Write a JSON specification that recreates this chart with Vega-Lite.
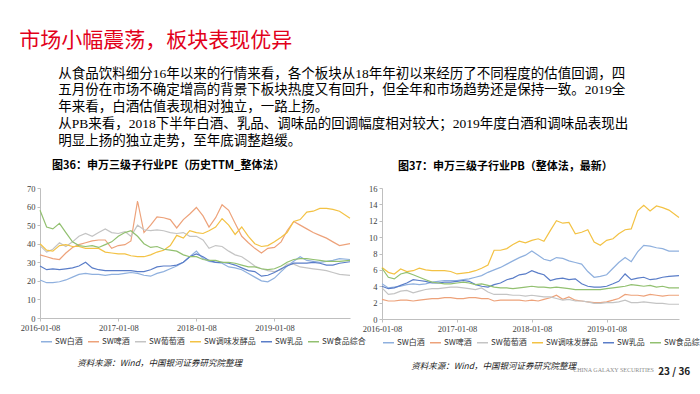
{
  "$schema": "https://vega.github.io/schema/vega-lite/v6.json",
  "background": "white",
  "padding": {"left": 19, "top": 29, "right": 0, "bottom": 0},
  "datasets": {
    "pe": [
      {"d":"2016-01-08","SW白酒":20.5,"SW啤酒":34,"SW葡萄酒":39,"SW调味发酵品":40,"SW乳品":28,"SW食品综合":58},
      {"d":"2016-02-08","SW白酒":19,"SW啤酒":33,"SW葡萄酒":35.5,"SW调味发酵品":36.5,"SW乳品":26,"SW食品综合":49},
      {"d":"2016-03-08","SW白酒":19,"SW啤酒":32,"SW葡萄酒":37,"SW调味发酵品":36,"SW乳品":26.5,"SW食品综合":48},
      {"d":"2016-04-08","SW白酒":19.5,"SW啤酒":31.5,"SW葡萄酒":40.5,"SW调味发酵品":39,"SW乳品":26,"SW食品综合":51},
      {"d":"2016-05-08","SW白酒":20.5,"SW啤酒":35,"SW葡萄酒":38.5,"SW调味发酵品":39.5,"SW乳品":26.5,"SW食品综合":46},
      {"d":"2016-06-08","SW白酒":22,"SW啤酒":38,"SW葡萄酒":41,"SW调味发酵品":38.5,"SW乳品":27,"SW食品综合":41},
      {"d":"2016-07-08","SW白酒":23.5,"SW啤酒":39.5,"SW葡萄酒":44,"SW调味发酵品":38.5,"SW乳品":28,"SW食品综合":39},
      {"d":"2016-08-08","SW白酒":24,"SW啤酒":40.5,"SW葡萄酒":45.5,"SW调味发酵品":37.5,"SW乳品":30,"SW食品综合":38.5},
      {"d":"2016-09-08","SW白酒":23.5,"SW啤酒":41.5,"SW葡萄酒":44,"SW调味发酵品":37.5,"SW乳品":27,"SW食品综合":39},
      {"d":"2016-10-08","SW白酒":23.5,"SW啤酒":42,"SW葡萄酒":46,"SW调味发酵品":37.5,"SW乳品":26,"SW食品综合":38},
      {"d":"2016-11-08","SW白酒":23,"SW啤酒":42,"SW葡萄酒":48,"SW调味发酵品":35.5,"SW乳品":25.5,"SW食品综合":39.5},
      {"d":"2016-12-08","SW白酒":23.5,"SW啤酒":37.5,"SW葡萄酒":46,"SW调味发酵品":35,"SW乳品":25.5,"SW食品综合":41},
      {"d":"2017-01-08","SW白酒":23.5,"SW啤酒":39,"SW葡萄酒":45.5,"SW调味发酵品":34.5,"SW乳品":25.5,"SW食品综合":44},
      {"d":"2017-02-08","SW白酒":24,"SW啤酒":39.5,"SW葡萄酒":46.5,"SW调味发酵品":34.5,"SW乳品":25.5,"SW食品综合":46},
      {"d":"2017-03-08","SW白酒":24.5,"SW啤酒":41.5,"SW葡萄酒":44,"SW调味发酵品":33.5,"SW乳品":25.5,"SW食品综合":47},
      {"d":"2017-04-08","SW白酒":24,"SW啤酒":63,"SW葡萄酒":50,"SW调味发酵品":33,"SW乳品":25,"SW食品综合":44},
      {"d":"2017-05-08","SW白酒":23,"SW啤酒":46,"SW葡萄酒":47.5,"SW调味发酵品":33,"SW乳品":25,"SW食品综合":40},
      {"d":"2017-06-08","SW白酒":22.5,"SW啤酒":50,"SW葡萄酒":47,"SW调味发酵品":34,"SW乳品":26,"SW食品综合":38},
      {"d":"2017-07-08","SW白酒":24,"SW啤酒":54.5,"SW葡萄酒":47.5,"SW调味发酵品":35.5,"SW乳品":27.5,"SW食品综合":38.5},
      {"d":"2017-08-08","SW白酒":25,"SW啤酒":54,"SW葡萄酒":47,"SW调味发酵品":36.5,"SW乳品":28,"SW食品综合":37},
      {"d":"2017-09-08","SW白酒":26.5,"SW啤酒":53,"SW葡萄酒":46,"SW调味发酵品":39,"SW乳品":28,"SW食品综合":36.5},
      {"d":"2017-10-08","SW白酒":28,"SW啤酒":48.5,"SW葡萄酒":45.5,"SW调味发酵品":44.5,"SW乳品":28.5,"SW食品综合":36},
      {"d":"2017-11-08","SW白酒":30,"SW啤酒":53,"SW葡萄酒":46,"SW调味发酵品":43,"SW乳品":30,"SW食品综合":34},
      {"d":"2017-12-08","SW白酒":33,"SW啤酒":56,"SW葡萄酒":44,"SW调味发酵品":47,"SW乳品":33,"SW食品综合":33},
      {"d":"2018-01-08","SW白酒":36,"SW啤酒":59.5,"SW葡萄酒":44,"SW调味发酵品":46,"SW乳品":34.5,"SW食品综合":33},
      {"d":"2018-02-08","SW白酒":32,"SW啤酒":55,"SW葡萄酒":42,"SW调味发酵品":45.5,"SW乳品":33,"SW食品综合":31.5},
      {"d":"2018-03-08","SW白酒":30.5,"SW啤酒":49,"SW葡萄酒":37.5,"SW调味发酵品":47,"SW乳品":31,"SW食品综合":31},
      {"d":"2018-04-08","SW白酒":30,"SW啤酒":54,"SW葡萄酒":39,"SW调味发酵品":49,"SW乳品":30,"SW食品综合":31},
      {"d":"2018-05-08","SW白酒":29.5,"SW啤酒":61,"SW葡萄酒":38.5,"SW调味发酵品":53.5,"SW乳品":30,"SW食品综合":30},
      {"d":"2018-06-08","SW白酒":27.5,"SW啤酒":58,"SW葡萄酒":36,"SW调味发酵品":50,"SW乳品":29.5,"SW食品综合":30},
      {"d":"2018-07-08","SW白酒":27,"SW啤酒":51,"SW葡萄酒":34,"SW调味发酵品":45,"SW乳品":28.5,"SW食品综合":29.5},
      {"d":"2018-08-08","SW白酒":26,"SW啤酒":44,"SW葡萄酒":33,"SW调味发酵品":49,"SW乳品":27,"SW食品综合":28.5},
      {"d":"2018-09-08","SW白酒":24,"SW啤酒":40.5,"SW葡萄酒":30.5,"SW调味发酵品":44,"SW乳品":25.5,"SW食品综合":27.5},
      {"d":"2018-10-08","SW白酒":22,"SW啤酒":37.5,"SW葡萄酒":28,"SW调味发酵品":40,"SW乳品":25,"SW食品综合":27.5},
      {"d":"2018-11-08","SW白酒":20,"SW啤酒":35,"SW葡萄酒":26.5,"SW调味发酵品":38.5,"SW乳品":22.5,"SW食品综合":26.5},
      {"d":"2018-12-08","SW白酒":19.5,"SW啤酒":37.5,"SW葡萄酒":25.5,"SW调味发酵品":39,"SW乳品":23,"SW食品综合":26},
      {"d":"2019-01-08","SW白酒":21.5,"SW啤酒":38,"SW葡萄酒":25,"SW调味发酵品":41,"SW乳品":24.5,"SW食品综合":26.5},
      {"d":"2019-02-08","SW白酒":25,"SW啤酒":41,"SW葡萄酒":26,"SW调味发酵品":43.5,"SW乳品":26.5,"SW食品综合":28},
      {"d":"2019-03-08","SW白酒":28,"SW啤酒":47,"SW葡萄酒":29,"SW调味发酵品":46,"SW乳品":28,"SW食品综合":30},
      {"d":"2019-04-08","SW白酒":30.5,"SW啤酒":52,"SW葡萄酒":29,"SW调味发酵品":52,"SW乳品":29.5,"SW食品综合":31.5},
      {"d":"2019-05-08","SW白酒":33,"SW啤酒":50,"SW葡萄酒":27.5,"SW调味发酵品":53,"SW乳品":29.5,"SW食品综合":32},
      {"d":"2019-06-08","SW白酒":31,"SW啤酒":48,"SW葡萄酒":27,"SW调味发酵品":57,"SW乳品":29.5,"SW食品综合":32},
      {"d":"2019-07-08","SW白酒":30.5,"SW啤酒":46,"SW葡萄酒":26.5,"SW调味发酵品":57.5,"SW乳品":30,"SW食品综合":31.5},
      {"d":"2019-08-08","SW白酒":30,"SW啤酒":44.5,"SW葡萄酒":26,"SW调味发酵品":59,"SW乳品":29.5,"SW食品综合":31},
      {"d":"2019-09-08","SW白酒":30.5,"SW啤酒":43,"SW葡萄酒":25.5,"SW调味发酵品":59,"SW乳品":28.5,"SW食品综合":30.5},
      {"d":"2019-10-08","SW白酒":31,"SW啤酒":41,"SW葡萄酒":24.5,"SW调味发酵品":58.5,"SW乳品":28.5,"SW食品综合":30.5},
      {"d":"2019-11-08","SW白酒":32,"SW啤酒":39,"SW葡萄酒":23.5,"SW调味发酵品":57.5,"SW乳品":29.5,"SW食品综合":30.5},
      {"d":"2019-12-27","SW白酒":31.5,"SW啤酒":40,"SW葡萄酒":23,"SW调味发酵品":53.7,"SW乳品":30.3,"SW食品综合":31}
    ],
    "pb": [
      {"d":"2016-01-08","SW白酒":4.3,"SW啤酒":2.4,"SW葡萄酒":3.8,"SW调味发酵品":6.3,"SW乳品":4.0,"SW食品综合":6.2},
      {"d":"2016-02-08","SW白酒":3.8,"SW啤酒":2.2,"SW葡萄酒":3.0,"SW调味发酵品":5.7,"SW乳品":3.7,"SW食品综合":5.1},
      {"d":"2016-03-08","SW白酒":3.9,"SW啤酒":2.2,"SW葡萄酒":3.1,"SW调味发酵品":5.5,"SW乳品":3.8,"SW食品综合":4.9},
      {"d":"2016-04-08","SW白酒":4.0,"SW啤酒":2.3,"SW葡萄酒":3.4,"SW调味发酵品":6.1,"SW乳品":4.1,"SW食品综合":5.5},
      {"d":"2016-05-08","SW白酒":4.2,"SW啤酒":2.3,"SW葡萄酒":3.5,"SW调味发酵品":5.8,"SW乳品":4.4,"SW食品综合":5.7},
      {"d":"2016-06-08","SW白酒":4.3,"SW啤酒":2.2,"SW葡萄酒":3.2,"SW调味发酵品":5.9,"SW乳品":4.8,"SW食品综合":5.4},
      {"d":"2016-07-08","SW白酒":4.2,"SW啤酒":2.3,"SW葡萄酒":3.4,"SW调味发酵品":6.2,"SW乳品":4.7,"SW食品综合":5.1},
      {"d":"2016-08-08","SW白酒":4.3,"SW啤酒":2.4,"SW葡萄酒":3.6,"SW调味发酵品":6.0,"SW乳品":4.6,"SW食品综合":4.8},
      {"d":"2016-09-08","SW白酒":4.5,"SW啤酒":2.5,"SW葡萄酒":3.7,"SW调味发酵品":5.9,"SW乳品":4.4,"SW食品综合":4.5},
      {"d":"2016-10-08","SW白酒":4.6,"SW啤酒":2.5,"SW葡萄酒":3.7,"SW调味发酵品":5.9,"SW乳品":4.4,"SW食品综合":4.4},
      {"d":"2016-11-08","SW白酒":4.7,"SW啤酒":2.6,"SW葡萄酒":3.8,"SW调味发酵品":5.9,"SW乳品":4.5,"SW食品综合":4.3},
      {"d":"2016-12-08","SW白酒":4.7,"SW啤酒":2.6,"SW葡萄酒":3.9,"SW调味发酵品":5.8,"SW乳品":4.5,"SW食品综合":4.3},
      {"d":"2017-01-08","SW白酒":4.7,"SW啤酒":2.5,"SW葡萄酒":3.9,"SW调味发酵品":5.5,"SW乳品":4.6,"SW食品综合":4.4},
      {"d":"2017-02-08","SW白酒":4.8,"SW啤酒":2.5,"SW葡萄酒":3.8,"SW调味发酵品":5.6,"SW乳品":4.7,"SW食品综合":4.5},
      {"d":"2017-03-08","SW白酒":4.9,"SW啤酒":2.6,"SW葡萄酒":3.7,"SW调味发酵品":5.7,"SW乳品":4.6,"SW食品综合":4.4},
      {"d":"2017-04-08","SW白酒":5.1,"SW啤酒":2.6,"SW葡萄酒":3.6,"SW调味发酵品":5.9,"SW乳品":4.2,"SW食品综合":4.2},
      {"d":"2017-05-08","SW白酒":5.3,"SW啤酒":2.5,"SW葡萄酒":3.8,"SW调味发酵品":6.2,"SW乳品":4.0,"SW食品综合":4.3},
      {"d":"2017-06-08","SW白酒":5.7,"SW啤酒":2.5,"SW葡萄酒":3.3,"SW调味发酵品":6.6,"SW乳品":3.9,"SW食品综合":4.1},
      {"d":"2017-07-08","SW白酒":6.0,"SW啤酒":2.2,"SW葡萄酒":3.0,"SW调味发酵品":8.4,"SW乳品":4.2,"SW食品综合":3.9},
      {"d":"2017-08-08","SW白酒":6.3,"SW啤酒":2.3,"SW葡萄酒":3.0,"SW调味发酵品":8.4,"SW乳品":4.4,"SW食品综合":3.8},
      {"d":"2017-09-08","SW白酒":6.7,"SW啤酒":2.3,"SW葡萄酒":3.0,"SW调味发酵品":8.6,"SW乳品":4.8,"SW食品综合":3.8},
      {"d":"2017-10-08","SW白酒":7.1,"SW啤酒":2.3,"SW葡萄酒":2.9,"SW调味发酵品":9.1,"SW乳品":5.0,"SW食品综合":3.7},
      {"d":"2017-11-08","SW白酒":7.5,"SW啤酒":2.3,"SW葡萄酒":2.9,"SW调味发酵品":9.5,"SW乳品":5.4,"SW食品综合":3.8},
      {"d":"2017-12-08","SW白酒":7.8,"SW啤酒":2.2,"SW葡萄酒":2.8,"SW调味发酵品":9.3,"SW乳品":5.5,"SW食品综合":3.9},
      {"d":"2018-01-08","SW白酒":8.3,"SW啤酒":2.3,"SW葡萄酒":2.9,"SW调味发酵品":9.6,"SW乳品":5.9,"SW食品综合":4.0},
      {"d":"2018-02-08","SW白酒":7.8,"SW啤酒":2.2,"SW葡萄酒":2.8,"SW调味发酵品":9.8,"SW乳品":5.6,"SW食品综合":3.9},
      {"d":"2018-03-08","SW白酒":7.3,"SW啤酒":2.4,"SW葡萄酒":2.7,"SW调味发酵品":9.5,"SW乳品":5.4,"SW食品综合":3.9},
      {"d":"2018-04-08","SW白酒":7.1,"SW啤酒":2.6,"SW葡萄酒":2.7,"SW调味发酵品":10.8,"SW乳品":4.7,"SW食品综合":3.8},
      {"d":"2018-05-08","SW白酒":7.5,"SW啤酒":2.9,"SW葡萄酒":2.5,"SW调味发酵品":12.0,"SW乳品":4.9,"SW食品综合":3.9},
      {"d":"2018-06-08","SW白酒":7.4,"SW啤酒":2.4,"SW葡萄酒":2.3,"SW调味发酵品":11.7,"SW乳品":5.0,"SW食品综合":3.8},
      {"d":"2018-07-08","SW白酒":7.1,"SW啤酒":2.7,"SW葡萄酒":2.4,"SW调味发酵品":11.8,"SW乳品":4.8,"SW食品综合":3.7},
      {"d":"2018-08-08","SW白酒":6.9,"SW啤酒":2.3,"SW葡萄酒":2.2,"SW调味发酵品":10.4,"SW乳品":4.9,"SW食品综合":3.6},
      {"d":"2018-09-08","SW白酒":6.7,"SW啤酒":2.2,"SW葡萄酒":2.2,"SW调味发酵品":10.6,"SW乳品":4.3,"SW食品综合":3.6},
      {"d":"2018-10-08","SW白酒":5.8,"SW啤酒":2.1,"SW葡萄酒":2.1,"SW调味发酵品":10.9,"SW乳品":4.0,"SW食品综合":3.6},
      {"d":"2018-11-08","SW白酒":5.1,"SW啤酒":2.0,"SW葡萄酒":1.9,"SW调味发酵品":9.4,"SW乳品":3.9,"SW食品综合":3.6},
      {"d":"2018-12-08","SW白酒":5.2,"SW啤酒":2.0,"SW葡萄酒":1.9,"SW调味发酵品":9.0,"SW乳品":3.9,"SW食品综合":3.6},
      {"d":"2019-01-08","SW白酒":5.4,"SW啤酒":2.1,"SW葡萄酒":2.0,"SW调味发酵品":9.6,"SW乳品":4.0,"SW食品综合":3.7},
      {"d":"2019-02-08","SW白酒":6.2,"SW啤酒":2.3,"SW葡萄酒":2.0,"SW调味发酵品":9.8,"SW乳品":4.3,"SW食品综合":3.8},
      {"d":"2019-03-08","SW白酒":6.9,"SW啤酒":2.5,"SW葡萄酒":2.1,"SW调味发酵品":10.4,"SW乳品":4.6,"SW食品综合":3.9},
      {"d":"2019-04-08","SW白酒":7.5,"SW啤酒":3.0,"SW葡萄酒":2.3,"SW调味发酵品":10.9,"SW乳品":5.5,"SW食品综合":4.0},
      {"d":"2019-05-08","SW白酒":7.0,"SW啤酒":2.9,"SW葡萄酒":2.0,"SW调味发酵品":11.0,"SW乳品":4.8,"SW食品综合":4.2},
      {"d":"2019-06-08","SW白酒":8.2,"SW啤酒":2.9,"SW葡萄酒":2.0,"SW调味发酵品":13.2,"SW乳品":5.0,"SW食品综合":4.1},
      {"d":"2019-07-08","SW白酒":9.0,"SW啤酒":2.8,"SW葡萄酒":2.1,"SW调味发酵品":13.9,"SW乳品":5.1,"SW食品综合":4.0},
      {"d":"2019-08-08","SW白酒":8.9,"SW啤酒":3.0,"SW葡萄酒":2.0,"SW调味发酵品":13.2,"SW乳品":4.8,"SW食品综合":4.1},
      {"d":"2019-09-08","SW白酒":8.7,"SW啤酒":2.9,"SW葡萄酒":1.9,"SW调味发酵品":13.8,"SW乳品":4.9,"SW食品综合":3.9},
      {"d":"2019-10-08","SW白酒":8.6,"SW啤酒":2.8,"SW葡萄酒":1.9,"SW调味发酵品":13.6,"SW乳品":5.1,"SW食品综合":4.0},
      {"d":"2019-11-08","SW白酒":8.3,"SW啤酒":2.9,"SW葡萄酒":1.8,"SW调味发酵品":13.3,"SW乳品":5.2,"SW食品综合":3.8},
      {"d":"2019-12-27","SW白酒":8.3,"SW啤酒":2.9,"SW葡萄酒":1.8,"SW调味发酵品":12.4,"SW乳品":5.3,"SW食品综合":3.8}
    ]
  },
  "title": {
    "text": "市场小幅震荡，板块表现优异",
    "anchor": "start",
    "fontSize": 21,
    "fontWeight": "normal",
    "color": "#E2001A",
    "dx": -1,
    "offset": 16
  },
  "vconcat": [
    {
      "title": {
        "text": [
          "从食品饮料细分16年以来的行情来看，各个板块从18年年初以来经历了不同程度的估值回调，四",
          "五月份在市场不确定增高的背景下板块热度又有回升，但全年和市场趋势还是保持一致。2019全",
          "年来看，白酒估值表现相对独立，一路上扬。",
          "从PB来看，2018下半年白酒、乳品、调味品的回调幅度相对较大；2019年度白酒和调味品表现出",
          "明显上扬的独立走势，至年底调整趋缓。"
        ],
        "anchor": "start",
        "dx": 38,
        "fontSize": 13.5,
        "lineHeight": 16.75,
        "fontWeight": "normal",
        "color": "#000000",
        "font": "Liberation Serif, Noto Sans CJK SC",
        "offset": 13
      },
      "bounds": "flush",
      "spacing": 342,
      "hconcat": [
        {
          "title": {
            "text": "资料来源：Wind，中国银河证券研究院整理",
            "orient": "bottom",
            "anchor": "start",
            "dx": 57,
            "fontSize": 8.5,
            "fontStyle": "italic",
            "fontWeight": "normal",
            "color": "#222222",
            "offset": 13
          },
          "vconcat": [
            {
              "title": {
                "text": "图36：申万三级子行业PE（历史TTM_整体法）",
                "anchor": "start",
                "frame": "group",
                "dx": 12,
                "fontSize": 11,
                "fontWeight": "bold",
                "color": "#000000",
                "offset": 13
              },
              "width": 310,
              "height": 130,
              "data": {"name": "pe"},
              "transform": [
                {"fold": ["SW白酒","SW啤酒","SW葡萄酒","SW调味发酵品","SW乳品","SW食品综合"], "as": ["系列","值"]}
              ],
              "mark": {"type": "line", "strokeWidth": 1.2},
              "encoding": {
                "x": {
                  "field": "d", "type": "temporal",
                  "scale": {"type": "utc", "domain": [{"year":2016,"month":1,"date":8,"utc":true},{"year":2019,"month":12,"date":27,"utc":true}]},
                  "axis": {
                    "values": [{"year":2016,"month":1,"date":8,"utc":true},{"year":2017,"month":1,"date":8,"utc":true},{"year":2018,"month":1,"date":8,"utc":true},{"year":2019,"month":1,"date":8,"utc":true}],
                    "labelExpr": "utcFormat(datum.value, '%Y-%m-%d')"
                  }
                },
                "y": {
                  "field": "值", "type": "quantitative",
                  "scale": {"domain": [0, 70]},
                  "axis": {"values": [0,10,20,30,40,50,60,70]}
                },
                "color": {
                  "field": "系列", "type": "nominal",
                  "scale": {"domain": ["SW白酒","SW啤酒","SW葡萄酒","SW调味发酵品","SW乳品","SW食品综合"], "range": ["#8FB0DE","#EDA27A","#C4C4C4","#F3C244","#5A7DC8","#92C070"]},
                  "sort": null,
                  "legend": {"title": null, "gridAlign": "each", "columnPadding": 2, "labelOffset": 2, "symbolSize": 121, "symbolStrokeWidth": 1.5, "labelFontSize": 8, "offset": 3, "padding": 0}
                }
              }
            }
          ],
          "resolve": {"scale": {"color": "independent"}, "legend": {"color": "independent"}}
        },
        {
          "title": {
            "text": "23 / 36",
            "orient": "bottom",
            "anchor": "start",
            "dx": 296,
            "dy": -6,
            "fontSize": 10,
            "fontWeight": "bold",
            "color": "#222222",
            "offset": 0
          },
          "vconcat": [
            {
              "title": {
                "text": "CHINA GALAXY SECURITIES",
                "orient": "bottom",
                "anchor": "start",
                "dx": 211,
                "dy": -4,
                "fontSize": 6,
                "fontWeight": "normal",
                "color": "#8C8C8C",
                "font": "Liberation Serif",
                "offset": 0
              },
              "vconcat": [
                {
                  "title": {
                    "text": "资料来源：Wind，中国银河证券研究院整理",
                    "orient": "bottom",
                    "anchor": "start",
                    "dx": 49,
                    "fontSize": 8.5,
                    "fontStyle": "italic",
                    "fontWeight": "normal",
                    "color": "#222222",
                    "offset": 15
                  },
                  "vconcat": [
                    {
                      "title": {
                        "text": "图37：申万三级子行业PB（整体法，最新）",
                        "anchor": "start",
                        "frame": "group",
                        "dx": 16,
                        "fontSize": 11,
                        "fontWeight": "bold",
                        "color": "#000000",
                        "offset": 12
                      },
                      "width": 297,
                      "height": 131,
                      "data": {"name": "pb"},
                      "transform": [
                        {"fold": ["SW白酒","SW啤酒","SW葡萄酒","SW调味发酵品","SW乳品","SW食品综合"], "as": ["系列","值"]}
                      ],
                      "mark": {"type": "line", "strokeWidth": 1.2},
                      "encoding": {
                        "x": {
                          "field": "d", "type": "temporal",
                          "scale": {"type": "utc", "domain": [{"year":2016,"month":1,"date":8,"utc":true},{"year":2019,"month":12,"date":27,"utc":true}]},
                          "axis": {
                            "values": [{"year":2016,"month":1,"date":8,"utc":true},{"year":2017,"month":1,"date":8,"utc":true},{"year":2018,"month":1,"date":8,"utc":true},{"year":2019,"month":1,"date":8,"utc":true}],
                            "labelExpr": "utcFormat(datum.value, '%Y-%m-%d')"
                          }
                        },
                        "y": {
                          "field": "值", "type": "quantitative",
                          "scale": {"domain": [0, 16]},
                          "axis": {"values": [0,2,4,6,8,10,12,14,16]}
                        },
                        "color": {
                          "field": "系列", "type": "nominal",
                          "scale": {"domain": ["SW白酒","SW啤酒","SW葡萄酒","SW调味发酵品","SW乳品","SW食品综合"], "range": ["#8FB0DE","#EDA27A","#C4C4C4","#F3C244","#5A7DC8","#92C070"]},
                          "sort": null,
                          "legend": {"title": null, "gridAlign": "each", "columnPadding": 2, "labelOffset": 2, "symbolSize": 121, "symbolStrokeWidth": 1.5, "labelFontSize": 8, "offset": 3, "padding": 0}
                        }
                      }
                    }
                  ],
                  "resolve": {"scale": {"color": "independent"}, "legend": {"color": "independent"}}
                }
              ],
              "resolve": {"scale": {"color": "independent"}, "legend": {"color": "independent"}}
            }
          ],
          "resolve": {"scale": {"color": "independent"}, "legend": {"color": "independent"}}
        }
      ],
      "resolve": {"scale": {"color": "independent"}, "legend": {"color": "independent"}}
    }
  ],
  "config": {
    "font": "Noto Sans CJK SC",
    "view": {"stroke": null},
    "title": {"font": "Noto Sans CJK SC"},
    "axis": {
      "title": null,
      "grid": false,
      "domainColor": "#BFBFBF",
      "tickColor": "#BFBFBF",
      "tickSize": 3,
      "labelFont": "Liberation Serif",
      "labelFontSize": 8.5,
      "labelColor": "#404040",
      "labelPadding": 2
    },
    "axisX": {"labelFlush": false},
    "legend": {
      "orient": "bottom",
      "direction": "horizontal",
      "gridAlign": "each",
      "symbolType": "stroke",
      "symbolSize": 121,
      "symbolStrokeWidth": 1.5,
      "labelFont": "Noto Sans CJK SC",
      "labelFontSize": 8,
      "labelColor": "#333333",
      "columnPadding": 2,
      "labelOffset": 2,
      "offset": 3,
      "padding": 0
    }
  }
}
